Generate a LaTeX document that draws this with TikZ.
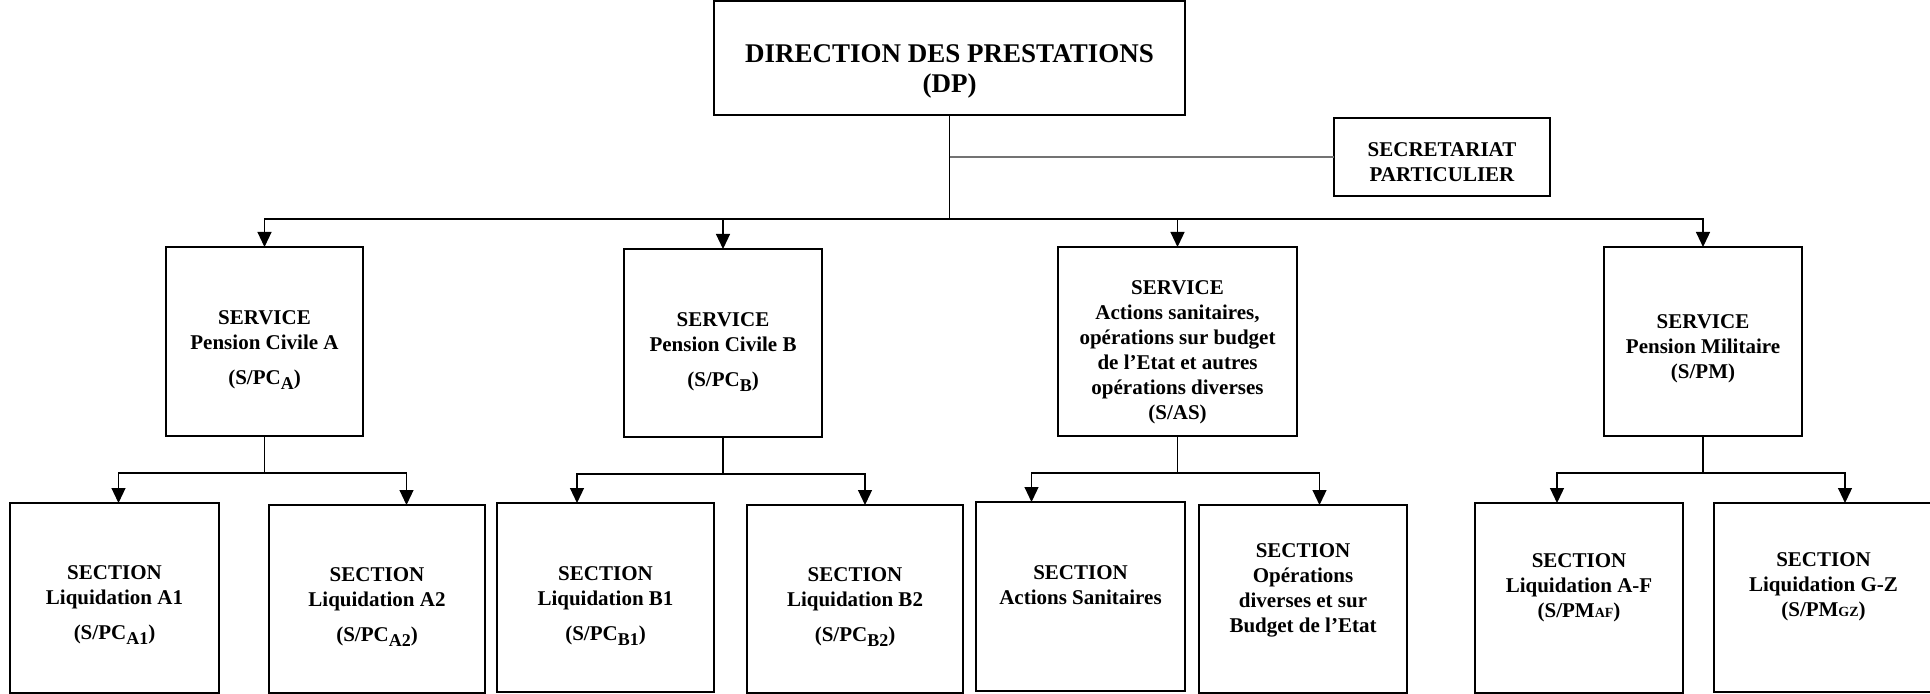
\documentclass[tikz,border=0pt]{standalone}
\usepackage{fontspec}
\setmainfont{Liberation Serif}
\usetikzlibrary{arrows.meta}
\newcommand\lowsub[1]{\raisebox{-2.5pt}{\fontsize{9}{9}\selectfont #1}}
\newcommand\smallsub[1]{{\fontsize{7}{7}\selectfont #1}}
\newcommand\dnstrut[1]{\rule{0pt}{#1}} % 第一行加高, 文字下移
\newcommand\upstrut[1]{\rule[-#1]{0pt}{#1}} % 末行加深, 文字上移
\tikzset{
    box/.style={draw, line width=0.6pt, inner sep=0pt, outer sep=0pt, align=center, font=\bfseries\fontsize{10.5}{12.5}\selectfont}, % 方框样式
    wh/.style 2 args={minimum width=#1*0.5pt, minimum height=#2*0.5pt}, % 方框尺寸
    link/.style={line width=0.6pt}, % 连线样式
    arr/.style={link, -{Triangle[length=7.5pt, width=7pt]}} % 带箭头的连线
}

\begin{document}
\begin{tikzpicture}[x=0.5pt, y=-0.5pt]
    \useasboundingbox (0,0) rectangle (1930,694);

    \node[box, wh={471}{114}, font=\bfseries\fontsize{13.5}{15}\selectfont] (dp) at (949.5,58) {\dnstrut{22pt}DIRECTION DES PRESTATIONS\\(DP)};
    \node[box, wh={216}{78}] (sec) at (1442,157) {\dnstrut{12pt}SECRETARIAT\\PARTICULIER};

    \node[box, wh={197}{189}] (sa) at (264.5,341.5) {\dnstrut{15.6pt}SERVICE\\Pension Civile A\\[5pt](S/PC\lowsub{A})};
    \node[box, wh={198}{188}] (sb) at (723,343) {\dnstrut{15.6pt}SERVICE\\Pension Civile B\\[5pt](S/PC\lowsub{B})};
    \node[box, wh={239}{189}] (sas) at (1177.5,341.5) {\dnstrut{18pt}SERVICE\\Actions sanitaires,\\opérations sur budget\\de l’Etat et autres\\opérations diverses\\(S/AS)};
    \node[box, wh={198}{189}] (spm) at (1703,341.5) {\dnstrut{14.4pt}SERVICE\\Pension Militaire\\(S/PM)};

    \node[box, wh={209}{190}] (a1) at (114.5,598) {\dnstrut{14.4pt}SECTION\\Liquidation A1\\[5pt](S/PC\lowsub{A1})};
    \node[box, wh={216}{188}] (a2) at (377,599) {\dnstrut{15pt}SECTION\\Liquidation A2\\[5pt](S/PC\lowsub{A2})};
    \node[box, wh={217}{189}] (b1) at (605.5,597.5) {\dnstrut{15.6pt}SECTION\\Liquidation B1\\[5pt](S/PC\lowsub{B1})};
    \node[box, wh={216}{188}] (b2) at (855,599) {\dnstrut{15pt}SECTION\\Liquidation B2\\[5pt](S/PC\lowsub{B2})};
    \node[box, wh={209}{189}] (sant) at (1080.5,596.5) {SECTION\\Actions Sanitaires\upstrut{11pt}};
    \node[box, wh={208}{188}] (op) at (1303,599) {SECTION\\Opérations\\diverses et sur\\Budget de l’Etat\upstrut{10.9pt}};
    \node[box, wh={208}{190}] (af) at (1579,598) {SECTION\\Liquidation A-F\\(S/PM\smallsub{AF})\upstrut{12.8pt}};
    \node[box, wh={219}{189}] (gz) at (1823.5,597.5) {SECTION\\Liquidation G-Z\\(S/PM\smallsub{GZ})\upstrut{12.8pt}};

    % direction -> services
    \coordinate (j) at (949.5,219);
    \draw[link] (dp.south) -- (j);
    \draw[link, black!55, line width=0.9pt] (dp.south |- sec.west) -- (sec.west);
    \foreach \s in {sa,sb,sas,spm} {\draw[arr] (j) -| (\s.north);}

    % services -> sections
    \foreach \s/\l/\r in {sa/a1/a2, sb/b1/b2, sas/sant/op, spm/af/gz} {
        \draw[link] (\s.south) -- ++(0,37) coordinate (k);
        \path (k) ++(-146,0) coordinate (kl) (k) ++(142,0) coordinate (kr);
        \draw[arr] (k) -| (kl |- \l.north);
        \draw[arr] (k) -| (kr |- \r.north);
    }
\end{tikzpicture}
\end{document}
